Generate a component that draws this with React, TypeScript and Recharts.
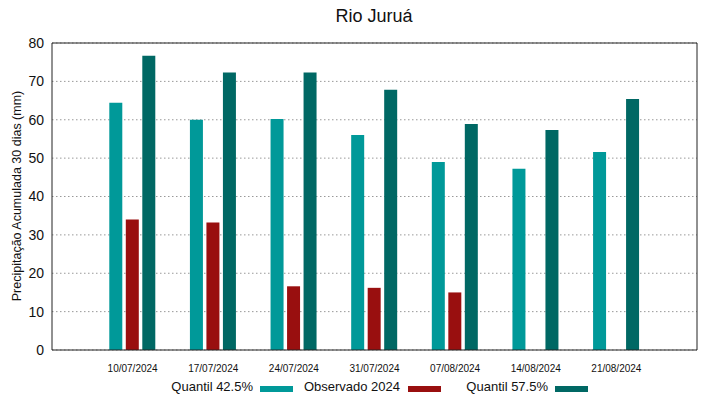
import { Bar, BarChart, CartesianGrid, XAxis, YAxis } from 'recharts';

const dates = [
    '10/07/2024',
    '17/07/2024',
    '24/07/2024',
    '31/07/2024',
    '07/08/2024',
    '14/08/2024',
    '21/08/2024',
];
const quantil425 = [64.4, 60.0, 60.2, 56.0, 49.0, 47.2, 51.6];
const observado2024: (number | null)[] = [34.0, 33.2, 16.6, 16.2, 15.0, null, null];
const quantil575 = [76.7, 72.3, 72.3, 67.8, 58.9, 57.3, 65.4];
const yTicks = [0, 10, 20, 30, 40, 50, 60, 70, 80];

const C_Q425 = '#009999';
const C_OBS = '#990f0f';
const C_Q575 = '#006864';
const FONT = '"Liberation Sans", Arial, sans-serif';

const data = dates.map((d, i) => ({
    date: d,
    q425: quantil425[i],
    obs: observado2024[i],
    q575: quantil575[i],
}));

const legendItems = [
    { label: 'Quantil 42.5%', color: C_Q425, textEnd: 253, sw: 260 },
    { label: 'Observado 2024', color: C_OBS, textEnd: 400, sw: 408 },
    { label: 'Quantil 57.5%', color: C_Q575, textEnd: 548, sw: 555 },
];

const App = () => {
    return (
        <div style={{ position: 'absolute', left: 0, top: 0, background: '#fff' }}>
            <BarChart
                width={719}
                height={399}
                data={data}
                margin={{ top: 43, right: 22, left: 12, bottom: 29 }}
                barSize={13}
                barGap={3.5}
                style={{ fontFamily: FONT }}
            >
                <CartesianGrid
                    vertical={false}
                    stroke="#999"
                    strokeDasharray="1.5 2.5"
                />
                <XAxis
                    dataKey="date"
                    height={20}
                    padding={{ left: 40.3, right: 40.3 }}
                    axisLine={{ stroke: '#222' }}
                    tickLine={false}
                    tickMargin={9}
                    tick={{ fontSize: 10, fill: '#111' }}
                    interval={0}
                />
                {/* inner tick marks along the bottom edge */}
                <XAxis
                    xAxisId="bt"
                    dataKey="date"
                    orientation="bottom"
                    mirror
                    height={1}
                    padding={{ left: 40.3, right: 40.3 }}
                    axisLine={false}
                    tick={false}
                    tickSize={5}
                    stroke="#333"
                />
                <XAxis
                    xAxisId="top"
                    dataKey="date"
                    orientation="top"
                    mirror
                    height={1}
                    padding={{ left: 40.3, right: 40.3 }}
                    axisLine={{ stroke: '#222' }}
                    tick={false}
                    tickSize={5}
                    stroke="#333"
                />
                <YAxis
                    width={40}
                    domain={[0, 80]}
                    ticks={yTicks}
                    interval={0}
                    axisLine={{ stroke: '#222' }}
                    tickLine={false}
                    tick={{ fontSize: 14, fill: '#111' }}
                />
                <YAxis
                    yAxisId="right"
                    orientation="right"
                    mirror
                    width={1}
                    domain={[0, 80]}
                    ticks={yTicks}
                    interval={0}
                    axisLine={{ stroke: '#222' }}
                    tick={false}
                    tickSize={5}
                    stroke="#333"
                />
                <Bar dataKey="q425" fill={C_Q425} isAnimationActive={false} />
                <Bar dataKey="obs" fill={C_OBS} isAnimationActive={false} />
                <Bar dataKey="q575" fill={C_Q575} isAnimationActive={false} />
                <text
                    x={374}
                    y={22}
                    textAnchor="middle"
                    fontSize={18}
                    fill="#111"
                    fontFamily={FONT}
                >
                    Rio Juruá
                </text>
                <text
                    x={21}
                    y={196}
                    transform="rotate(-90 21 196)"
                    textAnchor="middle"
                    fontSize={12.5}
                    fill="#111"
                    fontFamily={FONT}
                >
                    Precipitação Acumulada 30 dias (mm)
                </text>
                {legendItems.map((it) => (
                    <g key={it.label}>
                        <text
                            x={it.textEnd}
                            y={391}
                            textAnchor="end"
                            fontSize={13}
                            fill="#111"
                            fontFamily={FONT}
                        >
                            {it.label}
                        </text>
                        <rect x={it.sw} y={386} width={33} height={6} fill={it.color} />
                    </g>
                ))}
            </BarChart>
        </div>
    );
};

export default App;
